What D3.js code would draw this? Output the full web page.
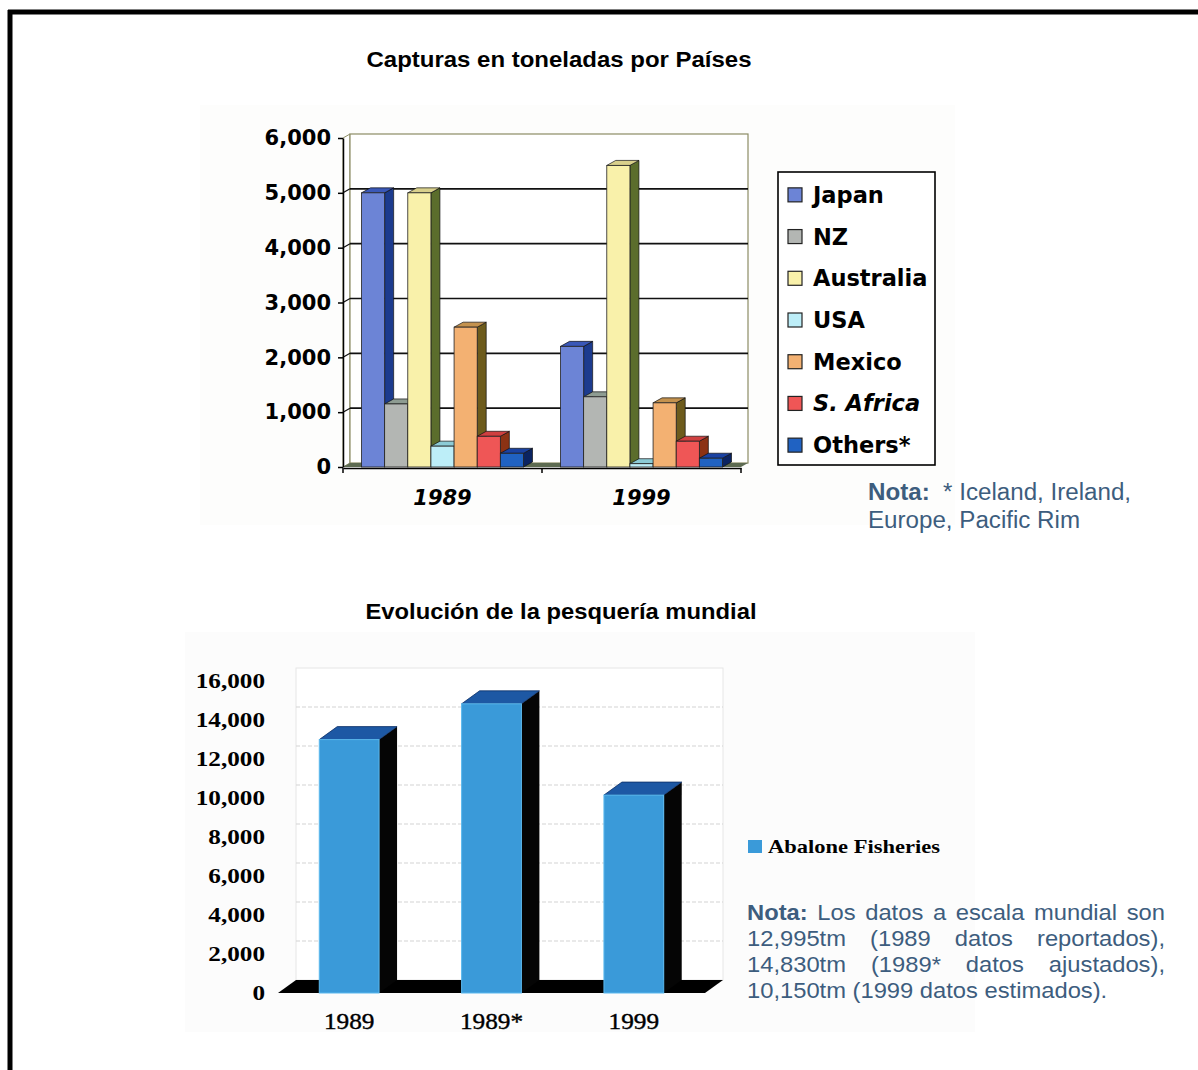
<!DOCTYPE html>
<html><head><meta charset="utf-8">
<script src="https://cdn.jsdelivr.net/npm/d3@7"></script>
<style>body{margin:0;background:#fff;} svg{display:block;}</style>
</head><body><svg id="c" width="1198" height="1070"></svg>
<script>
// ---------- DATA ----------
const catsTop = ["1989", "1999"];
const countries = ["Japan", "NZ", "Australia", "USA", "Mexico", "S. Africa", "Others*"];
const japan = [5000, 2200];
const nz = [1150, 1280];
const australia = [5000, 5500];
const usa = [380, 60];
const mexico = [2550, 1170];
const safrica = [560, 470];
const others = [250, 160];
const yTicksTop = [0, 1000, 2000, 3000, 4000, 5000, 6000];

const catsBottom = ["1989", "1989*", "1999"];
const abalone = [12995, 14830, 10150];
const yTicksBottom = [0, 2000, 4000, 6000, 8000, 10000, 12000, 14000, 16000];

// ---------- STYLE ----------
const frontCol = ["#6c84d6", "#b3b6b3", "#f9f1aa", "#bdeef8", "#f3b172", "#ef5656", "#2062c2"];
const sideCol  = ["#1c3b8e", "#6b7b6e", "#5b6d2c", "#5fa3b2", "#6d5b1c", "#8c3214", "#0b2462"];
const topCol   = ["#3a58b8", "#8e9c92", "#d9d08c", "#8ccbd6", "#c4924e", "#cf4040", "#1a42a2"];
const noteCol = "#3d5d7e";

const svg = d3.select("#c");
svg.append("rect").attr("width", 1198).attr("height", 1070).attr("fill", "#fff");

// page frame (top and left)
svg.append("line").attr("x1", 8).attr("x2", 1198).attr("y1", 12).attr("y2", 12)
  .attr("stroke", "#000").attr("stroke-width", 5);
svg.append("line").attr("x1", 10).attr("x2", 10).attr("y1", 10).attr("y2", 1070)
  .attr("stroke", "#000").attr("stroke-width", 5);

// ================= TOP CHART =================
const seriesTop = countries.map((name, i) => ({
  name, values: [japan, nz, australia, usa, mexico, safrica, others][i], i
}));

svg.append("rect").attr("x", 200).attr("y", 105).attr("width", 755).attr("height", 420)
  .attr("fill", "#fdfdfc");

svg.append("text").attr("x", 559).attr("y", 67).attr("text-anchor", "middle")
  .attr("font-family", "Liberation Sans, Arial, sans-serif").attr("font-weight", "bold")
  .attr("font-size", 22).attr("textLength", 385).attr("lengthAdjust", "spacingAndGlyphs")
  .text("Capturas en toneladas por Países");

const yT = d3.scaleLinear().domain([0, 6000]).range([467, 138]);
const x0 = d3.scaleBand().domain(catsTop).range([343, 741]);
const xi = d3.scaleBand().domain(countries)
  .range([x0.bandwidth() * 0.093, x0.bandwidth() * 0.907]);
const wdx = 7, wdy = -4, bdx = 9, bdy = -5;
const xL = x0.range()[0], xR = x0.range()[1];

const gT = svg.append("g");
// left wall
gT.append("polygon")
  .attr("points", [[xL, yT(6000)], [xL + wdx, yT(6000) + wdy], [xL + wdx, yT(0) + wdy], [xL, yT(0)]].join(" "))
  .attr("fill", "#fff").attr("stroke", "#8c8c64").attr("stroke-width", 1);
// back wall
gT.append("rect").attr("x", xL + wdx).attr("y", yT(6000) + wdy)
  .attr("width", xR - xL).attr("height", yT(0) - yT(6000))
  .attr("fill", "#fff").attr("stroke", "#8c8c64").attr("stroke-width", 1.2);
// gridlines
yTicksTop.filter(v => v > 0 && v < 6000).forEach(v => {
  gT.append("line").attr("x1", xL + wdx).attr("x2", xR + wdx)
    .attr("y1", yT(v) + wdy).attr("y2", yT(v) + wdy)
    .attr("stroke", "#111").attr("stroke-width", 1.6);
  gT.append("line").attr("x1", xL).attr("x2", xL + wdx)
    .attr("y1", yT(v)).attr("y2", yT(v) + wdy)
    .attr("stroke", "#111").attr("stroke-width", 1.2);
});
// floor
gT.append("polygon")
  .attr("points", [[xL, yT(0)], [xR, yT(0)], [xR + wdx, yT(0) + wdy], [xL + wdx, yT(0) + wdy]].join(" "))
  .attr("fill", "#5d6b52");

// bars
catsTop.forEach((c, ci) => {
  seriesTop.forEach(s => {
    const v = s.values[ci];
    const x = x0(c) + xi(s.name), w = xi.bandwidth();
    const y = yT(v), yb = yT(0);
    const g = gT.append("g");
    g.append("polygon")
      .attr("points", [[x + w, y], [x + w + bdx, y + bdy], [x + w + bdx, yb + bdy], [x + w, yb]].join(" "))
      .attr("fill", sideCol[s.i]).attr("stroke", "#111").attr("stroke-width", 0.7);
    g.append("polygon")
      .attr("points", [[x, y], [x + bdx, y + bdy], [x + w + bdx, y + bdy], [x + w, y]].join(" "))
      .attr("fill", topCol[s.i]).attr("stroke", "#111").attr("stroke-width", 0.7);
    g.append("rect").attr("x", x).attr("y", y).attr("width", w).attr("height", yb - y)
      .attr("fill", frontCol[s.i]).attr("stroke", "#222").attr("stroke-width", 0.8);
  });
});

// y axis
const axT = gT.append("g").attr("transform", `translate(${xL},0)`)
  .call(d3.axisLeft(yT).tickValues(yTicksTop).tickFormat(d3.format(",")).tickSize(5).tickSizeOuter(0).tickPadding(7));
axT.select(".domain").attr("stroke", "#000").attr("stroke-width", 1.5);
axT.selectAll(".tick line").attr("stroke", "#000").attr("stroke-width", 1.5);
axT.selectAll(".tick text").attr("font-family", "DejaVu Sans, Verdana, sans-serif")
  .attr("font-weight", "bold").attr("font-size", 21).attr("fill", "#000");

// x axis
const axB = gT.append("g").attr("transform", `translate(0,${yT(0) + 1})`)
  .call(d3.axisBottom(x0).tickSize(0).tickSizeOuter(0).tickFormat(""));
axB.select(".domain").attr("stroke", "#000").attr("stroke-width", 1.5);
[xL, x0(catsTop[1]), xR].forEach(x => {
  gT.append("line").attr("x1", x).attr("x2", x).attr("y1", yT(0) + 1).attr("y2", yT(0) + 6)
    .attr("stroke", "#000").attr("stroke-width", 1.5);
});
catsTop.forEach(c => {
  gT.append("text").attr("x", x0(c) + x0.bandwidth() / 2).attr("y", 505)
    .attr("text-anchor", "middle").attr("font-family", "DejaVu Sans, Verdana, sans-serif")
    .attr("font-weight", "bold").attr("font-style", "italic").attr("font-size", 21)
    .text(c);
});

// legend
const lg = svg.append("g");
lg.append("rect").attr("x", 778).attr("y", 172).attr("width", 157).attr("height", 293)
  .attr("fill", "#fff").attr("stroke", "#000").attr("stroke-width", 1.6);
const legY = d3.scaleBand().domain(countries).range([174, 466]);
seriesTop.forEach(s => {
  const cy = legY(s.name) + legY.bandwidth() / 2;
  lg.append("rect").attr("x", 788).attr("y", cy - 7).attr("width", 14).attr("height", 14)
    .attr("fill", frontCol[s.i]).attr("stroke", "#222").attr("stroke-width", 1.2);
  lg.append("text").attr("x", 813).attr("y", cy + 8)
    .attr("font-family", "DejaVu Sans, Verdana, sans-serif").attr("font-weight", "bold")
    .attr("font-size", 22.5).attr("font-style", s.name === "S. Africa" ? "italic" : "normal")
    .text(s.name);
});

// top note
const tng = svg.append("g").attr("transform", "translate(868,0) scale(1.05,1)")
  .attr("font-family", "Liberation Sans, Arial, sans-serif").attr("font-size", 23).attr("fill", noteCol);
const tn = tng.append("text").attr("x", 0).attr("y", 500).style("white-space", "pre");
tn.append("tspan").attr("font-weight", "bold").text("Nota:");
tn.append("tspan").text("  * Iceland, Ireland,");
tng.append("text").attr("x", 0).attr("y", 528).text("Europe, Pacific Rim");

// ================= BOTTOM CHART =================
svg.append("rect").attr("x", 185).attr("y", 632).attr("width", 790).attr("height", 400)
  .attr("fill", "#fcfcfc");

svg.append("text").attr("x", 561).attr("y", 619).attr("text-anchor", "middle")
  .attr("font-family", "Liberation Sans, Arial, sans-serif").attr("font-weight", "bold")
  .attr("font-size", 22).attr("textLength", 391).attr("lengthAdjust", "spacingAndGlyphs")
  .text("Evolución de la pesquería mundial");

const yB = d3.scaleLinear().domain([0, 16000]).range([993, 681]);
const xB = d3.scaleBand().domain(catsBottom).range([278, 705]);
const ddx = 18, ddy = -13;
const bL = xB.range()[0], bR = xB.range()[1];
const gB = svg.append("g");

// back wall
gB.append("rect").attr("x", bL + ddx).attr("y", yB(16000) + ddy)
  .attr("width", bR - bL).attr("height", yB(0) - yB(16000))
  .attr("fill", "#fff").attr("stroke", "#e6e6e6").attr("stroke-width", 1);
yTicksBottom.filter(v => v > 0 && v < 16000).forEach(v => {
  gB.append("line").attr("x1", bL + ddx).attr("x2", bR + ddx)
    .attr("y1", yB(v) + ddy).attr("y2", yB(v) + ddy)
    .attr("stroke", "#d4d4d4").attr("stroke-width", 1.2).attr("stroke-dasharray", "4,2");
});
// floor
gB.append("polygon")
  .attr("points", [[bL, yB(0)], [bR, yB(0)], [bR + ddx, yB(0) + ddy], [bL + ddx, yB(0) + ddy]].join(" "))
  .attr("fill", "#000");

// bars
catsBottom.forEach((c, i) => {
  const v = abalone[i];
  const w = xB.bandwidth() * 0.42;
  const x = xB(c) + (xB.bandwidth() - w) / 2;
  const y = yB(v), yb = yB(0);
  gB.append("polygon")
    .attr("points", [[x + w, y], [x + w + ddx, y + ddy], [x + w + ddx, yb + ddy], [x + w, yb]].join(" "))
    .attr("fill", "#050505");
  gB.append("polygon")
    .attr("points", [[x, y], [x + ddx, y + ddy], [x + w + ddx, y + ddy], [x + w, y]].join(" "))
    .attr("fill", "#1d58a4").attr("stroke", "#0b2f66").attr("stroke-width", 0.8);
  gB.append("rect").attr("x", x).attr("y", y).attr("width", w).attr("height", yb - y)
    .attr("fill", "#3a9ad9").attr("stroke", "#5ab8ee").attr("stroke-width", 1);
});

// y labels
const yl = gB.append("g").attr("transform", "translate(265,0) scale(1.2,1)");
yTicksBottom.forEach(v => {
  yl.append("text").attr("x", 0).attr("y", yB(v)).attr("dy", "0.35em")
    .attr("text-anchor", "end").attr("font-family", "Liberation Serif, Times New Roman, serif")
    .attr("font-weight", "bold").attr("font-size", 21).text(d3.format(",")(v));
});
// x labels
catsBottom.forEach(c => {
  const cx = xB(c) + xB.bandwidth() / 2;
  gB.append("g").attr("transform", `translate(${cx},1029) scale(1.1,1)`)
    .append("text").attr("text-anchor", "middle")
    .attr("font-family", "Liberation Serif, Times New Roman, serif")
    .attr("font-size", 23).attr("font-weight", "normal").attr("stroke", "#000").attr("stroke-width", 0.4)
    .text(c);
});

// legend
svg.append("rect").attr("x", 748).attr("y", 840).attr("width", 14).attr("height", 13)
  .attr("fill", "#3a9ad9");
svg.append("text").attr("x", 768).attr("y", 853)
  .attr("font-family", "Liberation Serif, Times New Roman, serif").attr("font-weight", "bold")
  .attr("font-size", 19).attr("textLength", 172).attr("lengthAdjust", "spacingAndGlyphs")
  .text("Abalone Fisheries");

// bottom note (justified)
const ng = svg.append("g").attr("transform", "translate(747,0) scale(1.08,1)")
  .attr("font-family", "Liberation Sans, Arial, sans-serif").attr("font-size", 22).attr("fill", noteCol);
const noteW = 418 / 1.08;
function justify(words, y, boldFirst) {
  const nodes = words.map((w, i) => ng.append("text").attr("y", y)
    .attr("font-weight", boldFirst && i === 0 ? "bold" : "normal").text(w));
  const widths = nodes.map(n => n.node().getComputedTextLength());
  const gap = (noteW - d3.sum(widths)) / (words.length - 1);
  let cx = 0;
  nodes.forEach((n, i) => { n.attr("x", cx); cx += widths[i] + gap; });
}
justify(["Nota:", "Los", "datos", "a", "escala", "mundial", "son"], 920, true);
justify(["12,995tm", "(1989", "datos", "reportados),"], 946, false);
justify(["14,830tm", "(1989*", "datos", "ajustados),"], 972, false);
ng.append("text").attr("x", 0).attr("y", 998).text("10,150tm (1999 datos estimados).");
</script></body></html>
